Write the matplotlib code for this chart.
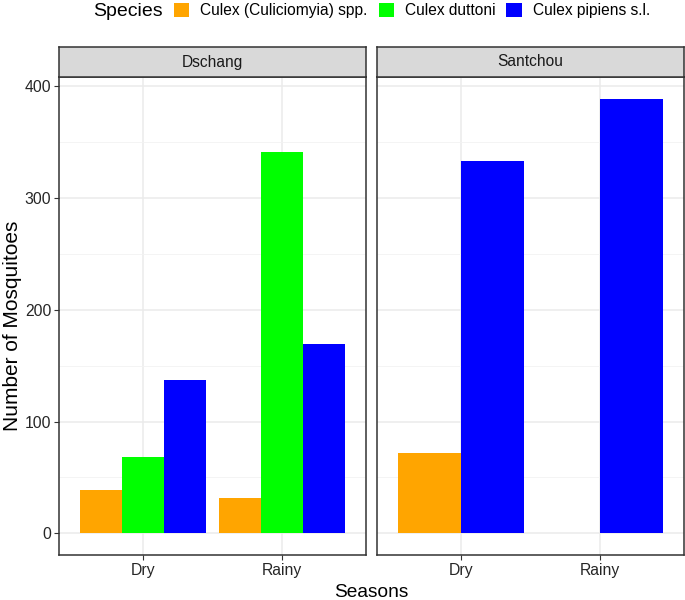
import matplotlib.pyplot as plt
import numpy as np
from matplotlib.patches import Patch

plt.rcParams["font.family"] = ["Liberation Sans", "DejaVu Sans"]

sites = ["Dschang", "Santchou"]
seasons = ["Dry", "Rainy"]
species = ["Culex (Culiciomyia) spp.", "Culex duttoni", "Culex pipiens s.l."]
colors = {"Culex (Culiciomyia) spp.": "#FFA500",
          "Culex duttoni": "#00FF00",
          "Culex pipiens s.l.": "#0000FF"}

# counts per site, season order: Dry, Rainy
dschang_counts = {
    "Culex (Culiciomyia) spp.": [39, 32],
    "Culex duttoni": [68, 341],
    "Culex pipiens s.l.": [137, 169],
}
santchou_counts = {
    "Culex (Culiciomyia) spp.": [72, 0],
    "Culex pipiens s.l.": [333, 389],
}
site_counts = {"Dschang": dschang_counts, "Santchou": santchou_counts}

W, H = 685, 600
fig = plt.figure(figsize=(W / 100, H / 100), dpi=100)


def px_rect(x0, y0, x1, y1):
    return [x0 / W, 1 - y1 / H, (x1 - x0) / W, (y1 - y0) / H]


panel_x = [(59, 366), (377, 684)]
plot_top, plot_bot, strip_top = 77, 555, 47

ymax = max(max(v) for c in site_counts.values() for v in c.values())
ylim = (-0.05 * ymax, 1.05 * ymax)

axes = []
for i, site in enumerate(sites):
    x0, x1 = panel_x[i]
    ax = fig.add_axes(px_rect(x0, plot_top, x1, plot_bot))
    counts = site_counts[site]
    n = len(counts)
    width = 0.9 / n
    x = np.arange(1, len(seasons) + 1)
    for j, (sp, vals) in enumerate(counts.items()):
        offs = -0.45 + width * (j + 0.5)
        ax.bar(x + offs, vals, width=width, color=colors[sp], linewidth=0, zorder=3)

    ax.set_xlim(0.4, 2.6)
    ax.set_ylim(*ylim)
    ax.set_xticks(x)
    ax.set_xticklabels(seasons)
    ax.set_yticks([0, 100, 200, 300, 400])
    ax.set_yticks([50, 150, 250, 350], minor=True)
    ax.grid(which="major", color="#EBEBEB", linewidth=1.1, zorder=0)
    ax.grid(which="minor", axis="y", color="#F2F2F2", linewidth=0.6, zorder=0)
    ax.tick_params(axis="x", which="minor", bottom=False)
    ax.tick_params(axis="y", which="minor", left=False)
    ax.tick_params(which="major", length=3.5, width=0.8, color="#333333",
                   labelsize=11.3, labelcolor="#262626", pad=2)
    if i == 0:
        ax.set_yticklabels(["0", "100", "200", "300", "400"])
    else:
        ax.tick_params(axis="y", labelleft=False, left=False)
    for s in ax.spines.values():
        s.set_color("#333333")
        s.set_linewidth(1.1)
    axes.append(ax)

    # facet strip
    sax = fig.add_axes(px_rect(x0, strip_top, x1, plot_top))
    sax.set_facecolor("#D9D9D9")
    sax.set_xticks([])
    sax.set_yticks([])
    for s in sax.spines.values():
        s.set_color("#333333")
        s.set_linewidth(1.1)
    sax.text(0.5, 0.5, site, ha="center", va="center", fontsize=11.2,
             color="#1A1A1A", transform=sax.transAxes)

axes[0].set_ylabel("Number of Mosquitoes", fontsize=15, va="center")
axes[0].yaxis.set_label_coords((12 - 59) / 307, 0.48)
fig.text((59 + 684) / 2 / W, 1 - 597 / H, "Seasons", ha="center", va="baseline",
         fontsize=13.8)

# legend on top
fig.text(93 / W, 1 - 11 / H, "Species", ha="left", va="center", fontsize=14)
handles = [Patch(facecolor=colors[sp], edgecolor="none", label=sp) for sp in species]
fig.legend(handles=handles, loc="center", bbox_to_anchor=(412 / W, 1 - 10.5 / H),
           ncol=3, frameon=False, fontsize=11.2, handlelength=1.0,
           handleheight=1.0, handletextpad=0.7, columnspacing=0.7,
           borderpad=0, borderaxespad=0)

fig.savefig("out.png", dpi=100)
